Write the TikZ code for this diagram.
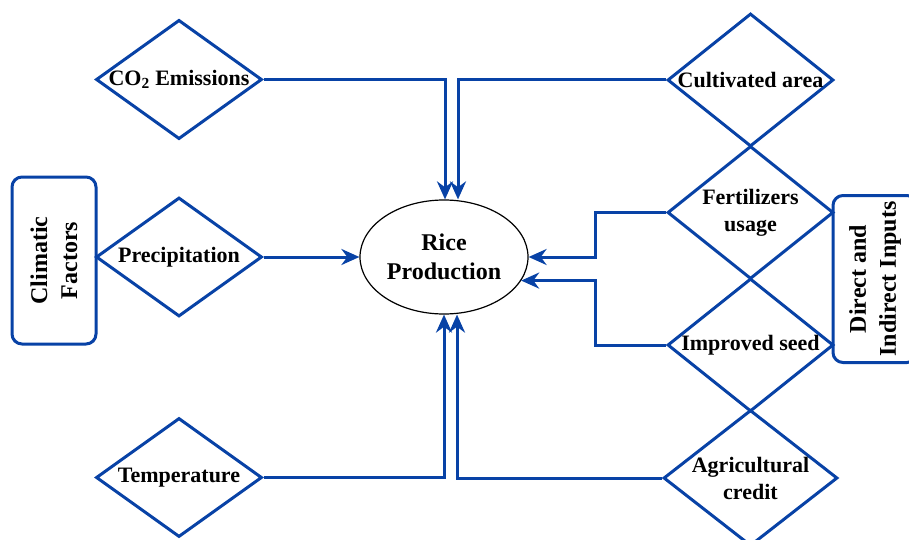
\documentclass[tikz,border=0pt]{standalone}
\usepackage{fontspec}
\setmainfont{Liberation Serif}
\usetikzlibrary{shapes.geometric,arrows.meta}
\definecolor{flowblue}{RGB}{8,66,166}

\begin{document}
\begin{tikzpicture}[x=1pt, y=-1pt,
  every node/.style={font=\fontsize{22}{27}\selectfont\bfseries, align=center},
  factor/.style={draw=flowblue, line width=3pt, diamond, inner sep=-10pt, minimum width=166pt, minimum height=119pt},
  input/.style={factor, minimum height=133pt},
  group/.style={draw=flowblue, line width=3pt, rounded corners=10pt, rotate=90, minimum width=167pt, minimum height=84pt, inner sep=0pt, font=\fontsize{24}{30}\selectfont\bfseries},
  outcome/.style={draw, ellipse, line width=1.2pt, minimum width=168pt, minimum height=114pt, inner sep=0pt, font=\fontsize{24}{29}\selectfont\bfseries},
  link/.style={draw=flowblue, line width=3pt, -{Stealth[length=18pt,width=16pt]}}]

\useasboundingbox (0,0) rectangle (909,540);
\clip (0,0) rectangle (909,540);

% ---------- climatic side ----------
\node[group] (clim) at (54,260.5) {Climatic\\Factors};
\node[factor] (co2) at (179,79.5) {CO\textsubscript{2} Emissions};
\node[factor] (precip) at (179,257) {Precipitation};
\node[factor] (temp) at (179,477.5) {Temperature};

% ---------- outcome ----------
\node[outcome] (rice) at (444,257) {Rice\\Production};

% ---------- direct and indirect inputs ----------
\node[input] (cult) at (750.5,80) {Cultivated area};
\node[input] (fert) at (750.5,212.5) {Fertilizers\\usage};
\node[input] (seed) at (750.5,345) {Improved seed};
\node[input, minimum width=174pt, minimum height=136pt] (agri) at (750.5,478) {Agricultural\\credit};
\node[group] (inputs) at (875,279) {Direct and\\Indirect Inputs};

% ---------- links ----------
\draw[link] (co2.east) -| ([xshift=1pt]rice.north);
\draw[link] (cult.west) -| ([xshift=14pt]rice.north);
\draw[link] (precip.east) -- (rice.west);
\draw[link] (temp.east) -| (rice.south);
\draw[link] (agri.west) -| ([xshift=13pt]rice.south);
\draw[link] (fert.west) -- ++(-71,0) |- (rice.east);
\draw[link] (seed.west) -- ++(-71,0) |- (rice.-17);

\end{tikzpicture}
\end{document}
